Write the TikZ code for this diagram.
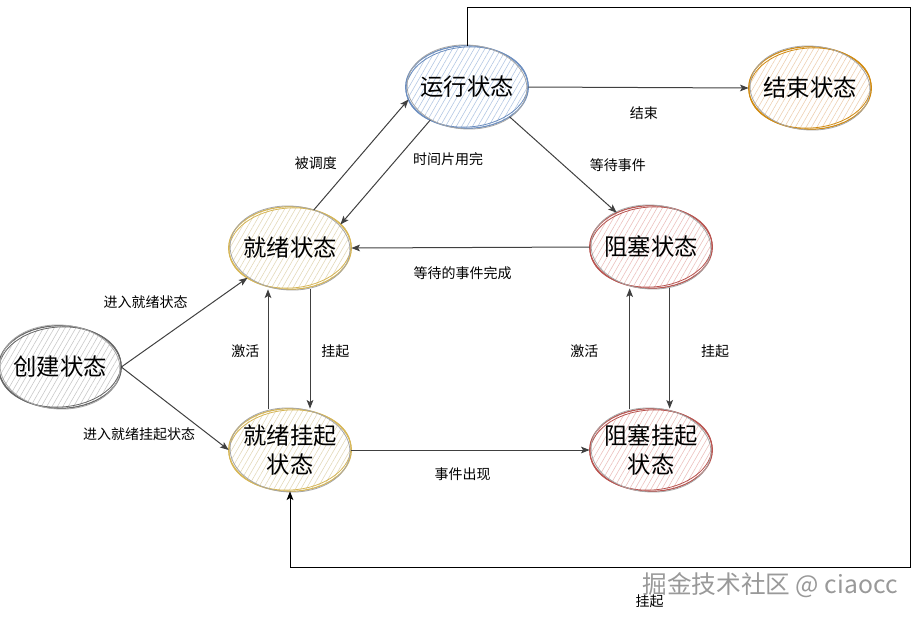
\documentclass[tikz,border=0pt]{standalone}
\usepackage{fontspec}
\setmainfont{Noto Sans CJK SC}
\usetikzlibrary{arrows.meta,positioning,shapes.geometric,patterns.meta}
\definecolor{runline}{HTML}{6C8EBF}
\definecolor{runfill}{HTML}{B3C7E3}
\definecolor{finline}{HTML}{D08A10}
\definecolor{finfill}{HTML}{EDD0B2}
\definecolor{blkline}{HTML}{B85450}
\definecolor{blkfill}{HTML}{EBC0BD}
\definecolor{rdyline}{HTML}{D6B656}
\definecolor{rdyfill}{HTML}{E3D9B9}
\definecolor{creline}{HTML}{666666}
\definecolor{crefill}{HTML}{C8C8C8}
\newcommand{\statefont}{\fontsize{17.5}{22}\selectfont}
\newcommand{\edgefont}{\fontsize{10.5}{12}\selectfont}
\tikzset{
    state/.style={ellipse, draw=#1line, line width=0.9pt, minimum width=92pt,
        minimum height=62pt, inner xsep=-4pt, inner ysep=0pt, outer sep=0pt,
        align=center, font=\statefont,
        pattern={Lines[angle=60,distance=3.5pt,line width=0.45pt]},
        pattern color=#1fill},
    trans/.style={draw=black!75, line width=0.75pt,
        -{Stealth[length=6.5pt,width=5pt,inset=1.5pt]}},
    elab/.style={font=\edgefont, inner sep=1pt},
}

\begin{document}
\begin{tikzpicture}[x=0.75pt, y=-0.75pt]
    \useasboundingbox (0,0) rectangle (919,618);

    \node[state=run] at (467, 87) (run) {运行状态};
    \node[state=fin] at (810, 88) (fin) {结束状态};
    \node[state=rdy] at (290,248) (rdy) {就绪状态};
    \node[state=blk] at (651,247) (blk) {阻塞状态};
    \node[state=cre] at ( 60,367) (cre) {创建状态};
    \node[state=rdy] at (290,450) (rsus) {就绪挂起\\状态};
    \node[state=blk] at (651,450) (bsus) {阻塞挂起\\状态};

    % rough second outline
    \foreach \n/\c in {run/runline, fin/finline, rdy/rdyline, blk/blkline,
        cre/creline, rsus/rdyline, bsus/blkline} {
        \draw[\c, line width=0.6pt, rotate around={4:(\n.center)}]
            (\n.center) ellipse [x radius=61, y radius=40];
        \draw[black!35, line width=0.6pt, rotate around={-3:(\n.center)}]
            (\n.center) ellipse [x radius=60, y radius=42];
    }

    \coordinate (tr) at (910,  7);
    \coordinate (br) at (910,567);

    \draw[trans] (run.east) --
        node[elab, midway, xshift=4pt, yshift=-19pt] (lfin) {结束} (fin.west);
    \draw[trans] (rdy.58) --
        node[elab, midway, xshift=-34pt, yshift=-6pt] (lsch) {被调度} (run.192);
    \draw[trans] (run.222) --
        node[elab, midway, xshift=47pt, yshift=10pt] (ltim) {时间片用完} (rdy.25);
    \draw[trans] (run.325) --
        node[elab, midway, xshift=41pt] (lwait) {等待事件} (blk.135);
    \draw[trans] (blk.west) --
        node[elab, midway, xshift=-6pt, yshift=-19pt] (ldone) {等待的事件完成} (rdy.east);
    \draw[trans] (cre.east) --
        node[elab, midway, xshift=-29pt, yshift=15pt] (lrdy) {进入就绪状态} (rdy.215);
    \draw[trans] (cre.east) --
        node[elab, midway, xshift=-27pt, yshift=-19pt] (lrsus) {进入就绪挂起状态} (rsus.west);

    \draw[trans] ([xshift=-16.5pt]rsus.north) --
        node[elab, midway, xshift=-17pt, yshift=-2pt] (lact1) {激活} ([xshift=-16.5pt]rdy.south);
    \draw[trans] ([xshift=15pt]rdy.south) --
        node[elab, midway, xshift=19pt, yshift=-2pt] (lsus1) {挂起} ([xshift=15pt]rsus.north);
    \draw[trans] ([xshift=-16pt]bsus.north) --
        node[elab, midway, xshift=-34pt, yshift=-2pt] (lact2) {激活} ([xshift=-16pt]blk.south);
    \draw[trans] ([xshift=14pt]blk.south) --
        node[elab, midway, xshift=34pt, yshift=-2pt] (lsus2) {挂起} ([xshift=14pt]bsus.north);

    \draw[trans] (rsus.east) --
        node[elab, midway, xshift=-6pt, yshift=-18pt] (levt) {事件出现} (bsus.west);

    \draw[trans, draw=black] (run.north) |- (tr) -- (br) -|
        node[elab, pos=0.21, yshift=-26pt] (lsus3) {挂起} (rsus.south);

    \node[font=\fontsize{18.5}{22}\selectfont, text=black!40] at (770,585) (wm) {掘金技术社区 @ ciaocc};
\end{tikzpicture}
\end{document}
